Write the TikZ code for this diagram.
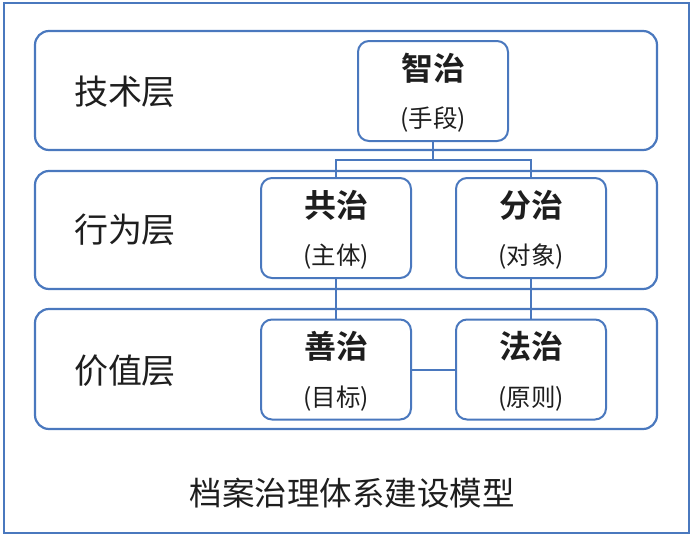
\documentclass[tikz,border=0pt]{standalone}
\usepackage{fontspec}
\setmainfont{Noto Sans CJK SC}[BoldFont={Noto Sans CJK SC Bold}]
\definecolor{frameblue}{HTML}{4A78BE}
\definecolor{txt}{HTML}{1E1E1E}
\tikzset{
  outerbox/.style={draw=frameblue, line width=2.2pt, minimum width=685pt, minimum height=530pt, inner sep=0pt},
  layerbox/.style={draw=frameblue, line width=2.2pt, rounded corners=14pt, minimum width=622pt, inner sep=0pt},
  itembox/.style={draw=frameblue, fill=white, line width=2pt, rounded corners=11pt, minimum width=150pt, minimum height=100pt, inner sep=0pt},
  layertext/.style={text=txt, font=\fontsize{34pt}{38pt}\selectfont, inner sep=0pt},
  captiontext/.style={text=txt, font=\fontsize{32.5pt}{36pt}\selectfont, inner sep=0pt},
  itemtitle/.style={text=txt, font=\fontsize{32pt}{36pt}\selectfont\bfseries, inner sep=0pt},
  itemsub/.style={text=txt, font=\fontsize{24.5pt}{28pt}\selectfont, inner sep=0pt},
  link/.style={draw=frameblue, line width=2pt},
}
\begin{document}
\begin{tikzpicture}[x=1pt, y=-1pt]
\useasboundingbox (0,0) rectangle (694,536);
\node[outerbox] (outer) at (346.5,268) {};
\node[layerbox, minimum height=119pt] (L1) at (346,90.5) {};
\node[layerbox, minimum height=118pt] (L2) at (346,230) {};
\node[layerbox, minimum height=120pt] (L3) at (346,369) {};
\node[layertext] (t1) at (125,92) {技术层};
\node[layertext] (t2) at (125,230) {行为层};
\node[layertext] (t3) at (125,371) {价值层};
\node[itembox] (zhi) at (433,91) {};
\node[itembox] (gong) at (336,228) {};
\node[itembox] (fen) at (531,228) {};
\node[itembox] (shan) at (336,369.5) {};
\node[itembox] (fa) at (531,369.5) {};
\node[itemtitle] (zhiT) at ([yshift=23pt]zhi.center) {智治};
\node[itemsub] (zhiS) at ([yshift=-29pt]zhi.center) {(手段)};
\node[itemtitle] (gongT) at ([yshift=23pt]gong.center) {共治};
\node[itemsub] (gongS) at ([yshift=-29pt]gong.center) {(主体)};
\node[itemtitle] (fenT) at ([yshift=23pt]fen.center) {分治};
\node[itemsub] (fenS) at ([yshift=-29pt]fen.center) {(对象)};
\node[itemtitle] (shanT) at ([yshift=23pt]shan.center) {善治};
\node[itemsub] (shanS) at ([yshift=-29pt]shan.center) {(目标)};
\node[itemtitle] (faT) at ([yshift=23pt]fa.center) {法治};
\node[itemsub] (faS) at ([yshift=-29pt]fa.center) {(原则)};
\node[captiontext] (caption) at (352,493) {档案治理体系建设模型};
\coordinate (j) at (433,160);
\draw[link] (zhi.south) -- (j);
\draw[link] (gong.north) |- (j) -| (fen.north);
\draw[link] (gong.south) -- (shan.north);
\draw[link] (fen.south) -- (fa.north);
\draw[link] (shan.east) -- (fa.west);
\end{tikzpicture}
\end{document}
